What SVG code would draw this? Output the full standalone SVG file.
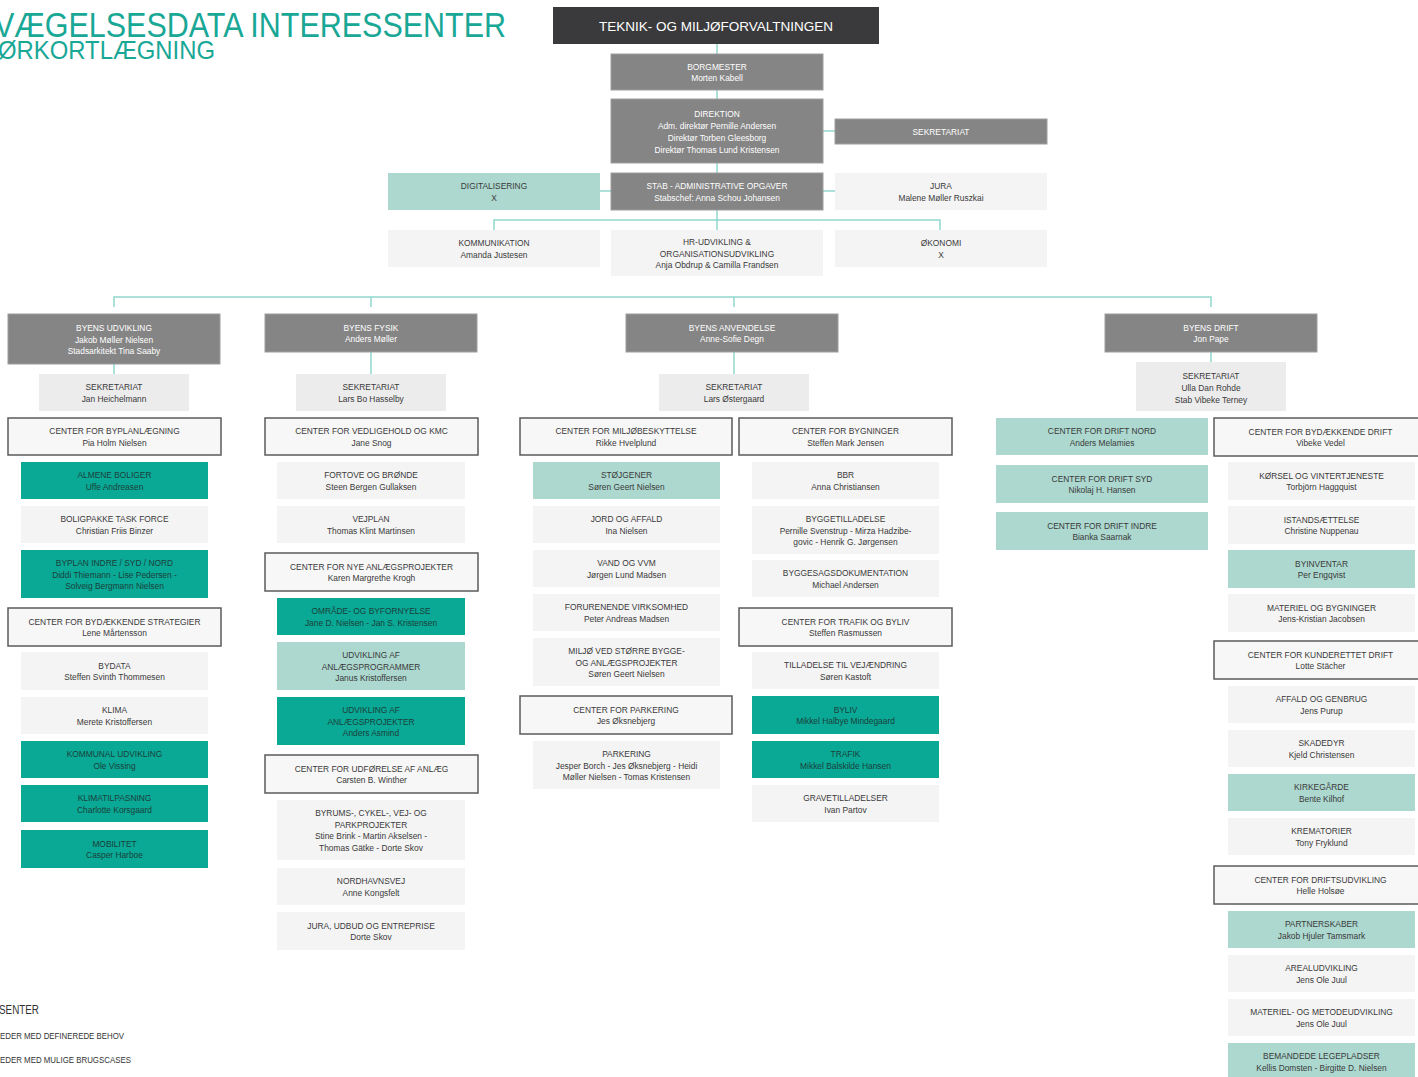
<svg xmlns="http://www.w3.org/2000/svg" width="1418" height="1077" viewBox="0 0 1418 1077">
<style>
.t{font-family:"Liberation Sans",Arial,sans-serif;font-size:8.4px;text-anchor:middle}
.w{fill:#ffffff}
.d{fill:#3a3a3a}
.k{fill:#1b3f3a}
.dk{fill:#3a3a3c}
.gr{fill:#858585;stroke:#9e9e9e;stroke-width:1}
.lg{fill:#f4f4f4}
.sk{fill:#ececec}
.lt{fill:#acd8cf}
.tl{fill:#0aa996}
.ct{fill:#f7f7f7;stroke:#5b5b5b;stroke-width:1.5}
.cn{fill:none;stroke:#90d8cc;stroke-width:1.5}
.ttl{font-family:"Liberation Sans",Arial,sans-serif;fill:#19a796}
.lgd{font-family:"Liberation Sans",Arial,sans-serif;fill:#333333}
.big{font-size:13.5px}
</style>
<rect x="0" y="0" width="1418" height="1077" fill="#ffffff"/>
<g id="title">
<text class="ttl" x="-6" y="37" font-size="35" textLength="512" lengthAdjust="spacingAndGlyphs">VÆGELSESDATA INTERESSENTER</text>
<text class="ttl" x="-2" y="59" font-size="25" textLength="217" lengthAdjust="spacingAndGlyphs">ØRKORTLÆGNING</text>
</g>
<g id="connectors">
<path class="cn" d="M717,44V54M717,90V99M717,163V173M823,131H835M600,191H611M823,191H835M717,210V230M494,230V220H940V230"/>
<path class="cn" d="M114,307V297H1211V307M371,297V307M734,297V307"/>
<path class="cn" d="M114,364V374M371,352V374M734,352V374M1211,352V362"/>
</g>
<g id="n-tmf"><rect class="dk" x="553" y="7" width="326" height="37"/><text class="t w big" x="716" y="30.5">TEKNIK- OG MILJØFORVALTNINGEN</text></g>
<g id="n-borgmester"><rect class="gr" x="611" y="54" width="212" height="36"/><text class="t w" x="717" y="69.6">BORGMESTER<tspan x="717" dy="11.75">Morten Kabell</tspan></text></g>
<g id="n-direktion"><rect class="gr" x="611" y="99" width="212" height="64"/><text class="t w" x="717" y="117">DIREKTION<tspan x="717" dy="11.9">Adm. direktør Pernille Andersen</tspan><tspan x="717" dy="11.9">Direktør Torben Gleesborg</tspan><tspan x="717" dy="11.9">Direktør Thomas Lund Kristensen</tspan></text></g>
<g id="n-sekretariat-top"><rect class="gr" x="835" y="119" width="212" height="25"/><text class="t w" x="941" y="135">SEKRETARIAT</text></g>
<g id="n-digitalisering"><rect class="lt" x="388" y="173" width="212" height="37"/><text class="t d" x="494" y="189.1">DIGITALISERING<tspan x="494" dy="11.75">X</tspan></text></g>
<g id="n-stab"><rect class="gr" x="611" y="173" width="212" height="37"/><text class="t w" x="717" y="189.1">STAB - ADMINISTRATIVE OPGAVER<tspan x="717" dy="11.75">Stabschef: Anna Schou Johansen</tspan></text></g>
<g id="n-jura"><rect class="lg" x="835" y="173" width="212" height="37"/><text class="t d" x="941" y="189.1">JURA<tspan x="941" dy="11.75">Malene Møller Ruszkai</tspan></text></g>
<g id="n-kommunikation"><rect class="lg" x="388" y="230" width="212" height="37"/><text class="t d" x="494" y="246.1">KOMMUNIKATION<tspan x="494" dy="11.75">Amanda Justesen</tspan></text></g>
<g id="n-hr"><rect class="lg" x="611" y="230" width="212" height="46"/><text class="t d" x="717" y="244.8">HR-UDVIKLING &amp;<tspan x="717" dy="11.75">ORGANISATIONSUDVIKLING</tspan><tspan x="717" dy="11.75">Anja Obdrup &amp; Camilla Frandsen</tspan></text></g>
<g id="n-okonomi"><rect class="lg" x="835" y="230" width="212" height="37"/><text class="t d" x="941" y="246.1">ØKONOMI<tspan x="941" dy="11.75">X</tspan></text></g>

<g id="n-byens-udvikling"><rect class="gr" x="8" y="314" width="212" height="50"/><text class="t w" x="114" y="330.8">BYENS UDVIKLING<tspan x="114" dy="11.75">Jakob Møller Nielsen</tspan><tspan x="114" dy="11.75">Stadsarkitekt Tina Saaby</tspan></text></g>
<g id="n-byens-fysik"><rect class="gr" x="265" y="314" width="212" height="38"/><text class="t w" x="371" y="330.6">BYENS FYSIK<tspan x="371" dy="11.75">Anders Møller</tspan></text></g>
<g id="n-byens-anvendelse"><rect class="gr" x="626" y="314" width="212" height="38"/><text class="t w" x="732" y="330.6">BYENS ANVENDELSE<tspan x="732" dy="11.75">Anne-Sofie Degn</tspan></text></g>
<g id="n-byens-drift"><rect class="gr" x="1105" y="314" width="212" height="38"/><text class="t w" x="1211" y="330.6">BYENS DRIFT<tspan x="1211" dy="11.75">Jon Pape</tspan></text></g>

<g id="n-sek-1"><rect class="sk" x="39" y="374" width="150" height="37"/><text class="t d" x="114" y="390.1">SEKRETARIAT<tspan x="114" dy="11.75">Jan Heichelmann</tspan></text></g>
<g id="n-sek-2"><rect class="sk" x="296" y="374" width="150" height="37"/><text class="t d" x="371" y="390.1">SEKRETARIAT<tspan x="371" dy="11.75">Lars Bo Hasselby</tspan></text></g>
<g id="n-sek-3"><rect class="sk" x="659" y="374" width="150" height="37"/><text class="t d" x="734" y="390.1">SEKRETARIAT<tspan x="734" dy="11.75">Lars Østergaard</tspan></text></g>
<g id="n-sek-4"><rect class="sk" x="1136" y="362" width="150" height="49"/><text class="t d" x="1211" y="379.3">SEKRETARIAT<tspan x="1211" dy="11.75">Ulla Dan Rohde</tspan><tspan x="1211" dy="11.75">Stab Vibeke Terney</tspan></text></g>

<g id="n-c-byplan"><rect class="ct" x="8" y="418" width="213" height="37"/><text class="t d" x="114.5" y="434.1">CENTER FOR BYPLANLÆGNING<tspan x="114.5" dy="11.75">Pia Holm Nielsen</tspan></text></g>
<g id="n-almene"><rect class="tl" x="21" y="462" width="187" height="37"/><text class="t k" x="114.5" y="478.1">ALMENE BOLIGER<tspan x="114.5" dy="11.75">Uffe Andreasen</tspan></text></g>
<g id="n-boligpakke"><rect class="lg" x="21" y="506" width="187" height="37"/><text class="t d" x="114.5" y="522.1">BOLIGPAKKE TASK FORCE<tspan x="114.5" dy="11.75">Christian Friis Binzer</tspan></text></g>
<g id="n-byplan"><rect class="tl" x="21" y="550" width="187" height="48"/><text class="t k" x="114.5" y="565.8">BYPLAN INDRE / SYD / NORD<tspan x="114.5" dy="11.75">Diddi Thiemann - Lise Pedersen -</tspan><tspan x="114.5" dy="11.75">Solveig Bergmann Nielsen</tspan></text></g>
<g id="n-c-strategier"><rect class="ct" x="8" y="608" width="213" height="38"/><text class="t d" x="114.5" y="624.6">CENTER FOR BYDÆKKENDE STRATEGIER<tspan x="114.5" dy="11.75">Lene Mårtensson</tspan></text></g>
<g id="n-bydata"><rect class="lg" x="21" y="652" width="187" height="38"/><text class="t d" x="114.5" y="668.6">BYDATA<tspan x="114.5" dy="11.75">Steffen Svinth Thommesen</tspan></text></g>
<g id="n-klima"><rect class="lg" x="21" y="697" width="187" height="37"/><text class="t d" x="114.5" y="713.1">KLIMA<tspan x="114.5" dy="11.75">Merete Kristoffersen</tspan></text></g>
<g id="n-kommunal"><rect class="tl" x="21" y="741" width="187" height="37"/><text class="t k" x="114.5" y="757.1">KOMMUNAL UDVIKLING<tspan x="114.5" dy="11.75">Ole Vissing</tspan></text></g>
<g id="n-klimatilpasning"><rect class="tl" x="21" y="785" width="187" height="37"/><text class="t k" x="114.5" y="801.1">KLIMATILPASNING<tspan x="114.5" dy="11.75">Charlotte Korsgaard</tspan></text></g>
<g id="n-mobilitet"><rect class="tl" x="21" y="830" width="187" height="38"/><text class="t k" x="114.5" y="846.6">MOBILITET<tspan x="114.5" dy="11.75">Casper Harboe</tspan></text></g>

<g id="n-c-vedligehold"><rect class="ct" x="265" y="418" width="213" height="37"/><text class="t d" x="371.5" y="434.1">CENTER FOR VEDLIGEHOLD OG KMC<tspan x="371.5" dy="11.75">Jane Snog</tspan></text></g>
<g id="n-fortove"><rect class="lg" x="277" y="462" width="188" height="37"/><text class="t d" x="371" y="478.1">FORTOVE OG BRØNDE<tspan x="371" dy="11.75">Steen Bergen Gullaksen</tspan></text></g>
<g id="n-vejplan"><rect class="lg" x="277" y="506" width="188" height="37"/><text class="t d" x="371" y="522.1">VEJPLAN<tspan x="371" dy="11.75">Thomas Klint Martinsen</tspan></text></g>
<g id="n-c-nye"><rect class="ct" x="265" y="553" width="213" height="38"/><text class="t d" x="371.5" y="569.6">CENTER FOR NYE ANLÆGSPROJEKTER<tspan x="371.5" dy="11.75">Karen Margrethe Krogh</tspan></text></g>
<g id="n-omraade"><rect class="tl" x="277" y="598" width="188" height="37"/><text class="t k" x="371" y="614.1">OMRÅDE- OG BYFORNYELSE<tspan x="371" dy="11.75">Jane D. Nielsen - Jan S. Kristensen</tspan></text></g>
<g id="n-udv-prog"><rect class="lt" x="277" y="642" width="188" height="48"/><text class="t d" x="371" y="657.8">UDVIKLING AF<tspan x="371" dy="11.75">ANLÆGSPROGRAMMER</tspan><tspan x="371" dy="11.75">Janus Kristoffersen</tspan></text></g>
<g id="n-udv-proj"><rect class="tl" x="277" y="697" width="188" height="48"/><text class="t k" x="371" y="712.8">UDVIKLING AF<tspan x="371" dy="11.75">ANLÆGSPROJEKTER</tspan><tspan x="371" dy="11.75">Anders Asmind</tspan></text></g>
<g id="n-c-udforelse"><rect class="ct" x="265" y="755" width="213" height="38"/><text class="t d" x="371.5" y="771.6">CENTER FOR UDFØRELSE AF ANLÆG<tspan x="371.5" dy="11.75">Carsten B. Winther</tspan></text></g>
<g id="n-byrums"><rect class="lg" x="277" y="800" width="188" height="60"/><text class="t d" x="371" y="815.9">BYRUMS-, CYKEL-, VEJ- OG<tspan x="371" dy="11.75">PARKPROJEKTER</tspan><tspan x="371" dy="11.75">Stine Brink - Martin Akselsen -</tspan><tspan x="371" dy="11.75">Thomas Gätke - Dorte Skov</tspan></text></g>
<g id="n-nordhavnsvej"><rect class="lg" x="277" y="868" width="188" height="37"/><text class="t d" x="371" y="884.1">NORDHAVNSVEJ<tspan x="371" dy="11.75">Anne Kongsfelt</tspan></text></g>
<g id="n-jura-udbud"><rect class="lg" x="277" y="912" width="188" height="38"/><text class="t d" x="371" y="928.6">JURA, UDBUD OG ENTREPRISE<tspan x="371" dy="11.75">Dorte Skov</tspan></text></g>

<g id="n-c-miljo"><rect class="ct" x="520" y="418" width="212" height="37"/><text class="t d" x="626" y="434.1">CENTER FOR MILJØBESKYTTELSE<tspan x="626" dy="11.75">Rikke Hvelplund</tspan></text></g>
<g id="n-stojgener"><rect class="lt" x="533" y="462" width="187" height="37"/><text class="t d" x="626.5" y="478.1">STØJGENER<tspan x="626.5" dy="11.75">Søren Geert Nielsen</tspan></text></g>
<g id="n-jord"><rect class="lg" x="533" y="506" width="187" height="37"/><text class="t d" x="626.5" y="522.1">JORD OG AFFALD<tspan x="626.5" dy="11.75">Ina Nielsen</tspan></text></g>
<g id="n-vand"><rect class="lg" x="533" y="550" width="187" height="37"/><text class="t d" x="626.5" y="566.1">VAND OG VVM<tspan x="626.5" dy="11.75">Jørgen Lund Madsen</tspan></text></g>
<g id="n-forurenende"><rect class="lg" x="533" y="594" width="187" height="37"/><text class="t d" x="626.5" y="610.1">FORURENENDE VIRKSOMHED<tspan x="626.5" dy="11.75">Peter Andreas Madsen</tspan></text></g>
<g id="n-miljo-bygge"><rect class="lg" x="533" y="638" width="187" height="48"/><text class="t d" x="626.5" y="653.8">MILJØ VED STØRRE BYGGE-<tspan x="626.5" dy="11.75">OG ANLÆGSPROJEKTER</tspan><tspan x="626.5" dy="11.75">Søren Geert Nielsen</tspan></text></g>
<g id="n-c-parkering"><rect class="ct" x="520" y="696" width="212" height="38"/><text class="t d" x="626" y="712.6">CENTER FOR PARKERING<tspan x="626" dy="11.75">Jes Øksnebjerg</tspan></text></g>
<g id="n-parkering"><rect class="lg" x="533" y="741" width="187" height="48"/><text class="t d" x="626.5" y="756.8">PARKERING<tspan x="626.5" dy="11.75">Jesper Borch - Jes Øksnebjerg - Heidi</tspan><tspan x="626.5" dy="11.75">Møller Nielsen - Tomas Kristensen</tspan></text></g>

<g id="n-c-bygninger"><rect class="ct" x="739" y="418" width="213" height="37"/><text class="t d" x="845.5" y="434.1">CENTER FOR BYGNINGER<tspan x="845.5" dy="11.75">Steffen Mark Jensen</tspan></text></g>
<g id="n-bbr"><rect class="lg" x="752" y="462" width="187" height="37"/><text class="t d" x="845.5" y="478.1">BBR<tspan x="845.5" dy="11.75">Anna Christiansen</tspan></text></g>
<g id="n-byggetilladelse"><rect class="lg" x="752" y="506" width="187" height="48"/><text class="t d" x="845.5" y="521.8">BYGGETILLADELSE<tspan x="845.5" dy="11.75">Pernille Svenstrup - Mirza Hadzibe-</tspan><tspan x="845.5" dy="11.75">govic - Henrik G. Jørgensen</tspan></text></g>
<g id="n-byggesag"><rect class="lg" x="752" y="560" width="187" height="37"/><text class="t d" x="845.5" y="576.1">BYGGESAGSDOKUMENTATION<tspan x="845.5" dy="11.75">Michael Andersen</tspan></text></g>
<g id="n-c-trafik"><rect class="ct" x="739" y="608" width="213" height="38"/><text class="t d" x="845.5" y="624.6">CENTER FOR TRAFIK OG BYLIV<tspan x="845.5" dy="11.75">Steffen Rasmussen</tspan></text></g>
<g id="n-tilladelse"><rect class="lg" x="752" y="652" width="187" height="37"/><text class="t d" x="845.5" y="668.1">TILLADELSE TIL VEJÆNDRING<tspan x="845.5" dy="11.75">Søren Kastoft</tspan></text></g>
<g id="n-byliv"><rect class="tl" x="752" y="696" width="187" height="38"/><text class="t k" x="845.5" y="712.6">BYLIV<tspan x="845.5" dy="11.75">Mikkel Halbye Mindegaard</tspan></text></g>
<g id="n-trafik"><rect class="tl" x="752" y="741" width="187" height="37"/><text class="t k" x="845.5" y="757.1">TRAFIK<tspan x="845.5" dy="11.75">Mikkel Balskilde Hansen</tspan></text></g>
<g id="n-grave"><rect class="lg" x="752" y="785" width="187" height="37"/><text class="t d" x="845.5" y="801.1">GRAVETILLADELSER<tspan x="845.5" dy="11.75">Ivan Partov</tspan></text></g>

<g id="n-drift-nord"><rect class="lt" x="996" y="418" width="212" height="37"/><text class="t d" x="1102" y="434.1">CENTER FOR DRIFT NORD<tspan x="1102" dy="11.75">Anders Melamies</tspan></text></g>
<g id="n-drift-syd"><rect class="lt" x="996" y="465" width="212" height="38"/><text class="t d" x="1102" y="481.6">CENTER FOR DRIFT SYD<tspan x="1102" dy="11.75">Nikolaj H. Hansen</tspan></text></g>
<g id="n-drift-indre"><rect class="lt" x="996" y="512" width="212" height="38"/><text class="t d" x="1102" y="528.6">CENTER FOR DRIFT INDRE<tspan x="1102" dy="11.75">Bianka Saarnak</tspan></text></g>

<g id="n-c-bydaekkende-drift"><rect class="ct" x="1214" y="418" width="213" height="38"/><text class="t d" x="1320.5" y="434.6">CENTER FOR BYDÆKKENDE DRIFT<tspan x="1320.5" dy="11.75">Vibeke Vedel</tspan></text></g>
<g id="n-korsel"><rect class="lg" x="1228" y="462" width="187" height="38"/><text class="t d" x="1321.5" y="478.6">KØRSEL OG VINTERTJENESTE<tspan x="1321.5" dy="11.75">Torbjörn Haggquist</tspan></text></g>
<g id="n-istand"><rect class="lg" x="1228" y="506" width="187" height="38"/><text class="t d" x="1321.5" y="522.6">ISTANDSÆTTELSE<tspan x="1321.5" dy="11.75">Christine Nuppenau</tspan></text></g>
<g id="n-byinventar"><rect class="lt" x="1228" y="550" width="187" height="38"/><text class="t d" x="1321.5" y="566.6">BYINVENTAR<tspan x="1321.5" dy="11.75">Per Engqvist</tspan></text></g>
<g id="n-materiel"><rect class="lg" x="1228" y="594" width="187" height="38"/><text class="t d" x="1321.5" y="610.6">MATERIEL OG BYGNINGER<tspan x="1321.5" dy="11.75">Jens-Kristian Jacobsen</tspan></text></g>
<g id="n-c-kunderettet"><rect class="ct" x="1214" y="641" width="213" height="38"/><text class="t d" x="1320.5" y="657.6">CENTER FOR KUNDERETTET DRIFT<tspan x="1320.5" dy="11.75">Lotte Stächer</tspan></text></g>
<g id="n-affald"><rect class="lg" x="1228" y="686" width="187" height="37"/><text class="t d" x="1321.5" y="702.1">AFFALD OG GENBRUG<tspan x="1321.5" dy="11.75">Jens Purup</tspan></text></g>
<g id="n-skadedyr"><rect class="lg" x="1228" y="730" width="187" height="37"/><text class="t d" x="1321.5" y="746.1">SKADEDYR<tspan x="1321.5" dy="11.75">Kjeld Christensen</tspan></text></g>
<g id="n-kirkegaarde"><rect class="lt" x="1228" y="774" width="187" height="37"/><text class="t d" x="1321.5" y="790.1">KIRKEGÅRDE<tspan x="1321.5" dy="11.75">Bente Kilhof</tspan></text></g>
<g id="n-krematorier"><rect class="lg" x="1228" y="818" width="187" height="37"/><text class="t d" x="1321.5" y="834.1">KREMATORIER<tspan x="1321.5" dy="11.75">Tony Fryklund</tspan></text></g>
<g id="n-c-driftsudvikling"><rect class="ct" x="1214" y="866" width="213" height="38"/><text class="t d" x="1320.5" y="882.6">CENTER FOR DRIFTSUDVIKLING<tspan x="1320.5" dy="11.75">Helle Holsøe</tspan></text></g>
<g id="n-partnerskaber"><rect class="lt" x="1228" y="911" width="187" height="37"/><text class="t d" x="1321.5" y="927.1">PARTNERSKABER<tspan x="1321.5" dy="11.75">Jakob Hjuler Tamsmark</tspan></text></g>
<g id="n-arealudvikling"><rect class="lg" x="1228" y="955" width="187" height="37"/><text class="t d" x="1321.5" y="971.1">AREALUDVIKLING<tspan x="1321.5" dy="11.75">Jens Ole Juul</tspan></text></g>
<g id="n-metodeudvikling"><rect class="lg" x="1228" y="999" width="187" height="37"/><text class="t d" x="1321.5" y="1015.1">MATERIEL- OG METODEUDVIKLING<tspan x="1321.5" dy="11.75">Jens Ole Juul</tspan></text></g>
<g id="n-legepladser"><rect class="lt" x="1228" y="1043" width="187" height="40"/><text class="t d" x="1321.5" y="1059.1">BEMANDEDE LEGEPLADSER<tspan x="1321.5" dy="11.75">Kellis Domsten - Birgitte D. Nielsen</tspan></text></g>

<g id="legend">
<text class="lgd" x="-1" y="1014" font-size="12" textLength="40" lengthAdjust="spacingAndGlyphs">SENTER</text>
<text class="lgd" x="0" y="1039" font-size="8.5" textLength="124" lengthAdjust="spacingAndGlyphs">EDER MED DEFINEREDE BEHOV</text>
<text class="lgd" x="0" y="1063" font-size="8.5" textLength="131" lengthAdjust="spacingAndGlyphs">EDER MED MULIGE BRUGSCASES</text>
</g>
</svg>
